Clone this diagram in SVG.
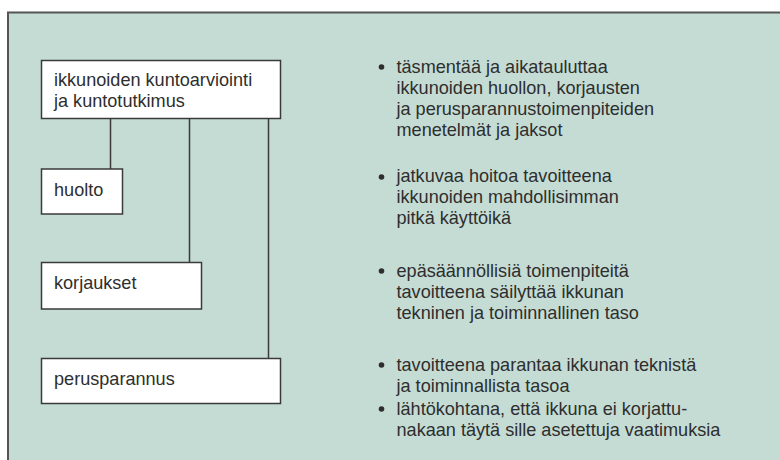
<svg xmlns="http://www.w3.org/2000/svg" width="780" height="460" viewBox="0 0 780 460">
<style>
text{font-family:"Liberation Sans",Arial,sans-serif;font-size:18.1px;fill:#2e2e2e}
.box{fill:#fff;stroke:#3a3a3a;stroke-width:1.5}
.con{stroke:#3a3a3a;stroke-width:1.5;fill:none}
.dot{fill:#2e2e2e}
</style>
<rect x="0" y="0" width="780" height="460" fill="#fff"/>
<rect x="8" y="12.5" width="775" height="452" fill="#c5dcd4" stroke="#555" stroke-width="2"/>
<g id="connectors">
<line class="con" x1="110.5" y1="118.5" x2="110.5" y2="169"/>
<line class="con" x1="189.5" y1="118.5" x2="189.5" y2="262.5"/>
<line class="con" x1="268.5" y1="118.5" x2="268.5" y2="358.5"/>
</g>
<g id="n-kuntoarviointi">
<rect class="box" x="41.5" y="60.5" width="239" height="58"/>
<text x="54" y="85.5">ikkunoiden kuntoarviointi</text>
<text x="54" y="106.5">ja kuntotutkimus</text>
</g>
<g id="n-huolto">
<rect class="box" x="41.5" y="169" width="81" height="45"/>
<text x="54" y="196">huolto</text>
</g>
<g id="n-korjaukset">
<rect class="box" x="41.5" y="262.5" width="160" height="46.5"/>
<text x="54" y="288.5">korjaukset</text>
</g>
<g id="n-perusparannus">
<rect class="box" x="41.5" y="358.5" width="239" height="45"/>
<text x="54" y="385">perusparannus</text>
</g>
<g id="desc">
<circle class="dot" cx="381.5" cy="67" r="2.8"/>
<text x="396.5" y="72.5">täsmentää ja aikatauluttaa</text>
<text x="396.5" y="93.5">ikkunoiden huollon, korjausten</text>
<text x="396.5" y="114.5">ja perusparannustoimenpiteiden</text>
<text x="396.5" y="135.5">menetelmät ja jaksot</text>
<circle class="dot" cx="381.5" cy="177" r="2.8"/>
<text x="396.5" y="182">jatkuvaa hoitoa tavoitteena</text>
<text x="396.5" y="203">ikkunoiden mahdollisimman</text>
<text x="396.5" y="224">pitkä käyttöikä</text>
<circle class="dot" cx="381.5" cy="271" r="2.8"/>
<text x="396.5" y="276.5">epäsäännöllisiä toimenpiteitä</text>
<text x="396.5" y="297.5">tavoitteena säilyttää ikkunan</text>
<text x="396.5" y="318.5">tekninen ja toiminnallinen taso</text>
<circle class="dot" cx="381.5" cy="365" r="2.8"/>
<text x="396.5" y="370.5">tavoitteena parantaa ikkunan teknistä</text>
<text x="396.5" y="391.5">ja toiminnallista tasoa</text>
<circle class="dot" cx="381.5" cy="409" r="2.8"/>
<text x="396.5" y="414.5">lähtökohtana, että ikkuna ei korjattu-</text>
<text x="396.5" y="435.5">nakaan täytä sille asetettuja vaatimuksia</text>
</g>
</svg>
